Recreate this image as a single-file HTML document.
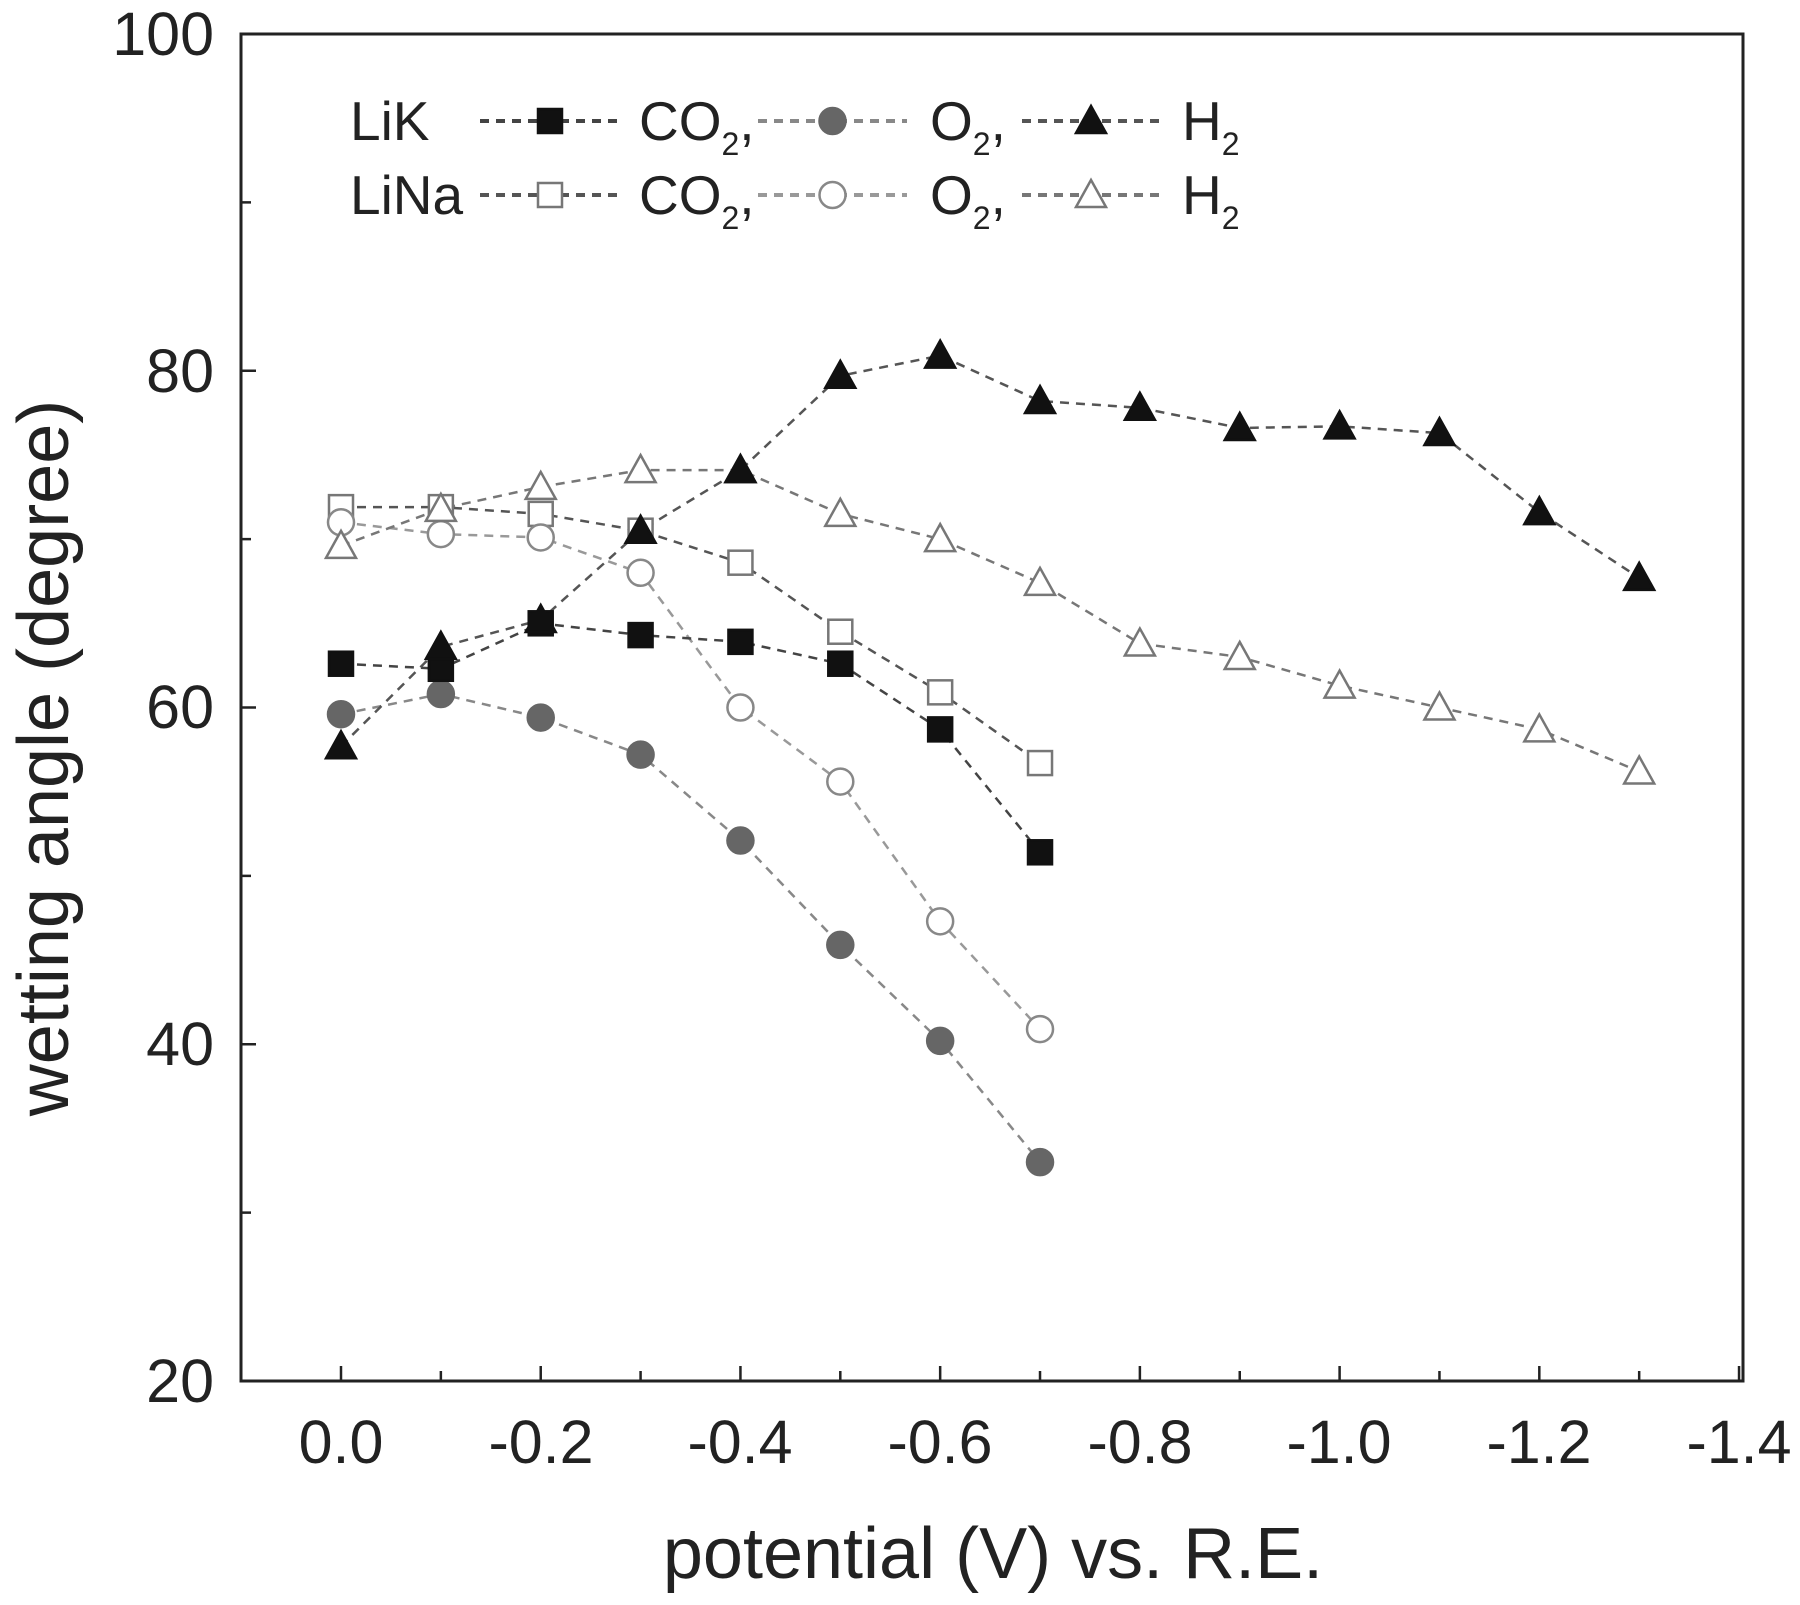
<!DOCTYPE html>
<html><head><meta charset="utf-8"><style>
html,body{margin:0;padding:0;background:#fff}
svg text{font-family:"Liberation Sans",Arial,sans-serif;fill:#222}
</style></head><body>
<svg id="s" width="1800" height="1600" viewBox="0 0 1800 1600" xmlns="http://www.w3.org/2000/svg">
<rect x="0" y="0" width="1800" height="1600" fill="#fff"/>
<rect x="241" y="34" width="1502" height="1347" fill="none" stroke="#222" stroke-width="3"/>
<g id="ticks" stroke="#222" stroke-width="2.5"></g>
<g font-size="61" text-anchor="end">
<text x="214" y="1402">20</text>
<text x="214" y="1065">40</text>
<text x="214" y="728">60</text>
<text x="214" y="392">80</text>
<text x="214" y="55">100</text>
</g>
<g font-size="61" text-anchor="middle">
<text x="341" y="1463">0.0</text>
<text x="541" y="1463">-0.2</text>
<text x="740" y="1463">-0.4</text>
<text x="940" y="1463">-0.6</text>
<text x="1140" y="1463">-0.8</text>
<text x="1339" y="1463">-1.0</text>
<text x="1539" y="1463">-1.2</text>
<text x="1739" y="1463">-1.4</text>
</g>
<text x="993" y="1578" font-size="72" text-anchor="middle">potential (V) vs. R.E.</text>
<text transform="translate(68,758) rotate(-90)" font-size="72" text-anchor="middle">wetting angle (degree)</text>
<g id="series"></g>
<g id="legend"></g>
<g font-size="55">
<text x="350" y="140">LiK</text>
<text x="350" y="214">LiNa</text>
<text x="639" y="140">CO<tspan font-size="32" dy="15">2</tspan><tspan dy="-15">,</tspan></text>
<text x="930" y="140">O<tspan font-size="32" dy="15">2</tspan><tspan dy="-15">,</tspan></text>
<text x="1182" y="140">H<tspan font-size="32" dy="15">2</tspan></text>
<text x="639" y="214">CO<tspan font-size="32" dy="15">2</tspan><tspan dy="-15">,</tspan></text>
<text x="930" y="214">O<tspan font-size="32" dy="15">2</tspan><tspan dy="-15">,</tspan></text>
<text x="1182" y="214">H<tspan font-size="32" dy="15">2</tspan></text>
</g>
</svg>
<script>
var NS="http://www.w3.org/2000/svg";
function X(v){return 341+v*998.6}
function Y(v){return 1381-(v-20)*16.8375}
function el(p,n,a){var e=document.createElementNS(NS,n);for(var k in a)e.setAttribute(k,a[k]);p.appendChild(e);return e}
var T=document.getElementById('ticks');
for(var v=20;v<=100;v+=10){var y=Y(v);el(T,'line',{x1:241,x2:(v%20?251:256),y1:y,y2:y});}
for(var i=0;i<=14;i++){var x=X(i/10);el(T,'line',{x1:x,x2:x,y1:1381,y2:(i%2?1371:1366)});}
function mk(g,t,x,y,fill,stroke){
 if(t=='s')el(g,'rect',{x:x-12,y:y-12,width:24,height:24,fill:fill,stroke:stroke,'stroke-width':2.5});
 else if(t=='c')el(g,'circle',{cx:x,cy:y,r:13,fill:fill,stroke:stroke,'stroke-width':2.5});
 else el(g,'polygon',{points:(x)+','+(y-15)+' '+(x-15)+','+(y+12)+' '+(x+15)+','+(y+12),fill:fill,stroke:stroke,'stroke-width':2.5});
}
var S=[
 {t:'s',f:'#fff',s:'#777',l:'#555',d:[71.9,71.9,71.5,70.5,68.6,64.5,60.9,56.7]},
 {t:'c',f:'#fff',s:'#888',l:'#999',d:[71,70.3,70.1,68,60,55.6,47.3,40.9]},
 {t:'t',f:'#fff',s:'#777',l:'#777',d:[69.6,71.8,73.1,74.1,74.1,71.5,70,67.4,63.8,63,61.3,60,58.7,56.2]},
 {t:'c',f:'#666',s:'#666',l:'#888',d:[59.6,60.8,59.4,57.2,52.1,45.9,40.2,33]},
 {t:'s',f:'#111',s:'#111',l:'#444',d:[62.6,62.3,65,64.3,63.9,62.6,58.7,51.4]},
 {t:'t',f:'#111',s:'#111',l:'#555',d:[57.7,63.6,65.2,70.5,74.1,79.7,80.9,78.2,77.8,76.6,76.7,76.3,71.6,67.7]}
];
var G=document.getElementById('series');
S.forEach(function(s){var p=s.d.map(function(v,i){return X(i/10)+','+Y(v)}).join(' ');
 el(G,'polyline',{points:p,fill:'none',stroke:s.l,'stroke-width':2.5,'stroke-dasharray':'9,7'});});
S.forEach(function(s){s.d.forEach(function(v,i){mk(G,s.t,X(i/10),Y(v),s.f,s.s)})});
var L=document.getElementById('legend');
var rows=[[121,[[4,480,620],[3,758,907],[5,1022,1160]]],[195,[[0,480,620],[1,758,907],[2,1022,1160]]]];
rows.forEach(function(r){r[1].forEach(function(q){var s=S[q[0]];var a=q[1],b=q[2];
 el(L,'line',{x1:a,x2:b,y1:r[0],y2:r[0],stroke:s.l,'stroke-width':4,'stroke-dasharray':'9,7'});
 mk(L,s.t,(a+b)/2,r[0],s.f,s.s);});});
</script>
</body></html>
